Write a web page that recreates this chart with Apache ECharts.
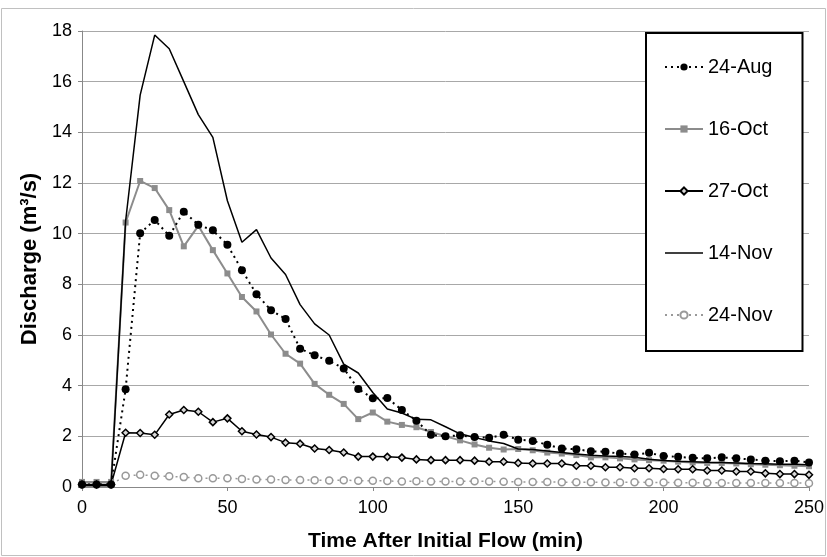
<!DOCTYPE html>
<html>
<head>
<meta charset="utf-8">
<script src="https://cdn.jsdelivr.net/npm/echarts@6/dist/echarts.min.js"></script>
<style>
html,body{margin:0;padding:0;background:#fff;}
#c{width:827px;height:557px;}
</style>
</head>
<body>
<div id="c"></div>
<script>
var times = [0,5,10,15,20,25,30,35,40,45,50,55,60,65,70,75,80,85,90,95,100,105,110,115,120,125,130,135,140,145,150,155,160,165,170,175,180,185,190,195,200,205,210,215,220,225,230,235,240,245,250];
var aug24 = [0.1,0.1,0.1,3.86,10.02,10.54,9.92,10.87,10.35,10.13,9.56,8.56,7.61,6.98,6.63,5.46,5.2,4.98,4.68,3.87,3.5,3.51,3.04,2.62,2.06,2.0,2.04,1.97,1.94,2.06,1.87,1.82,1.67,1.52,1.49,1.41,1.39,1.32,1.28,1.35,1.22,1.19,1.15,1.13,1.17,1.13,1.09,1.04,1.02,1.04,0.97];
var oct16 = [0.2,0.2,0.2,10.44,12.08,11.8,10.93,9.5,10.31,9.35,8.43,7.5,6.93,6.02,5.26,4.87,4.07,3.64,3.28,2.68,2.94,2.58,2.45,2.36,2.17,2.0,1.84,1.68,1.55,1.48,1.5,1.45,1.36,1.32,1.26,1.17,1.17,1.13,1.09,1.06,1.04,1.0,0.97,0.95,0.95,0.93,0.9,0.88,0.86,0.84,0.82];
var oct27 = [0.1,0.1,0.1,2.14,2.13,2.06,2.86,3.04,2.97,2.56,2.71,2.2,2.07,1.97,1.75,1.71,1.52,1.46,1.36,1.2,1.2,1.19,1.16,1.09,1.06,1.06,1.06,1.04,1.0,1.0,0.95,0.93,0.93,0.93,0.84,0.84,0.78,0.78,0.74,0.74,0.71,0.7,0.7,0.65,0.65,0.61,0.61,0.54,0.51,0.51,0.48];
var nov14 = [0.05,0.05,0.05,10.5,15.47,17.84,17.3,16.0,14.7,13.8,11.3,9.66,10.16,9.04,8.39,7.2,6.44,6.0,4.85,4.5,3.73,3.08,2.92,2.67,2.65,2.38,2.1,1.95,1.82,1.72,1.5,1.48,1.42,1.36,1.3,1.25,1.22,1.2,1.17,1.1,1.05,1.02,1.0,0.98,0.97,0.95,0.93,0.92,0.9,0.9,0.88];
var nov24 = [0.1,0.1,0.1,0.44,0.48,0.44,0.42,0.39,0.35,0.35,0.35,0.32,0.3,0.3,0.28,0.28,0.27,0.26,0.27,0.25,0.25,0.24,0.22,0.23,0.22,0.22,0.22,0.23,0.22,0.21,0.2,0.2,0.2,0.19,0.19,0.19,0.18,0.18,0.19,0.18,0.18,0.17,0.17,0.17,0.16,0.16,0.16,0.16,0.16,0.16,0.15];
var seriesNames = ['24-Aug','16-Oct','27-Oct','14-Nov','24-Nov'];
var xTicks = [0,50,100,150,200,250];
var yTicks = [0,2,4,6,8,10,12,14,16,18];

function pairs(arr){ return times.map(function(t,i){ return [t, arr[i]]; }); }

var FONT = '"Liberation Sans", Arial, sans-serif';
var chart = echarts.init(document.getElementById('c'), null, {renderer:'canvas'});
chart.setOption({
  backgroundColor:'#fff',
  animation:false,
  graphic:[{type:'rect', shape:{x:1.5,y:8.5,width:824,height:547}, style:{fill:'none', stroke:'#c0c0c0', lineWidth:1}, z:-10}],
  grid:{left:82, right:17, top:31, bottom:67, containLabel:false},
  xAxis:{
    type:'value', min:xTicks[0], max:xTicks[xTicks.length-1], interval:50,
    name:'Time After Initial Flow (min)', nameLocation:'middle', nameGap:44,
    nameTextStyle:{fontFamily:FONT, fontWeight:'bold', fontSize:21, color:'#000'},
    axisLine:{show:true, lineStyle:{color:'#888', width:1}},
    axisTick:{show:true, length:4, lineStyle:{color:'#888'}},
    axisLabel:{fontFamily:FONT, fontSize:18, color:'#000', margin:12},
    splitLine:{show:false}
  },
  yAxis:{
    type:'value', min:yTicks[0], max:yTicks[yTicks.length-1], interval:2,
    name:'Discharge (m³/s)', nameLocation:'middle', nameGap:40, nameRotate:90,
    nameTextStyle:{fontFamily:FONT, fontWeight:'bold', fontSize:22, color:'#000'},
    axisLine:{show:true, lineStyle:{color:'#888', width:1}},
    axisTick:{show:true, length:4, lineStyle:{color:'#888'}},
    axisLabel:{fontFamily:FONT, fontSize:18, color:'#000', margin:10},
    splitLine:{show:true, lineStyle:{color:'#a8a8a8', width:1}}
  },
  legend:{
    orient:'vertical', left:646, top:33,
    padding:[24,30,26,18],
    itemWidth:38, itemHeight:9, itemGap:42,
    borderColor:'#000', borderWidth:2, backgroundColor:'#fff',
    textStyle:{fontFamily:FONT, fontSize:20, color:'#000', lineHeight:20},
    data:[seriesNames[0], seriesNames[1], seriesNames[2],
      {name:seriesNames[3], icon:'path://M0,0 L38,0 L38,1.6 L0,1.6 Z'},
      seriesNames[4]]
  },
  series:[
    {name:seriesNames[0], type:'line', data:pairs(aug24), symbol:'circle', symbolSize:8,
     itemStyle:{color:'#000'}, lineStyle:{color:'#000', width:2, type:[2,4]}, z:3},
    {name:seriesNames[1], type:'line', data:pairs(oct16), symbol:'rect', symbolSize:6,
     itemStyle:{color:'#8c8c8c'}, lineStyle:{color:'#8c8c8c', width:2}, z:2},
    {name:seriesNames[2], type:'line', data:pairs(oct27), symbol:'diamond', symbolSize:7,
     itemStyle:{color:'#d8d8d8', borderColor:'#000', borderWidth:1.5}, lineStyle:{color:'#000', width:1.5}, z:2},
    {name:seriesNames[3], type:'line', data:pairs(nov14), symbol:'none',
     itemStyle:{color:'#000'}, lineStyle:{color:'#000', width:1.5}, z:4},
    {name:seriesNames[4], type:'line', data:pairs(nov24), symbol:'circle', symbolSize:7, showAllSymbol:true,
     itemStyle:{color:'#fff', borderColor:'#999', borderWidth:1.5}, lineStyle:{color:'#999', width:1.5, type:[2,4]}, z:1}
  ]
});
</script>
</body>
</html>
